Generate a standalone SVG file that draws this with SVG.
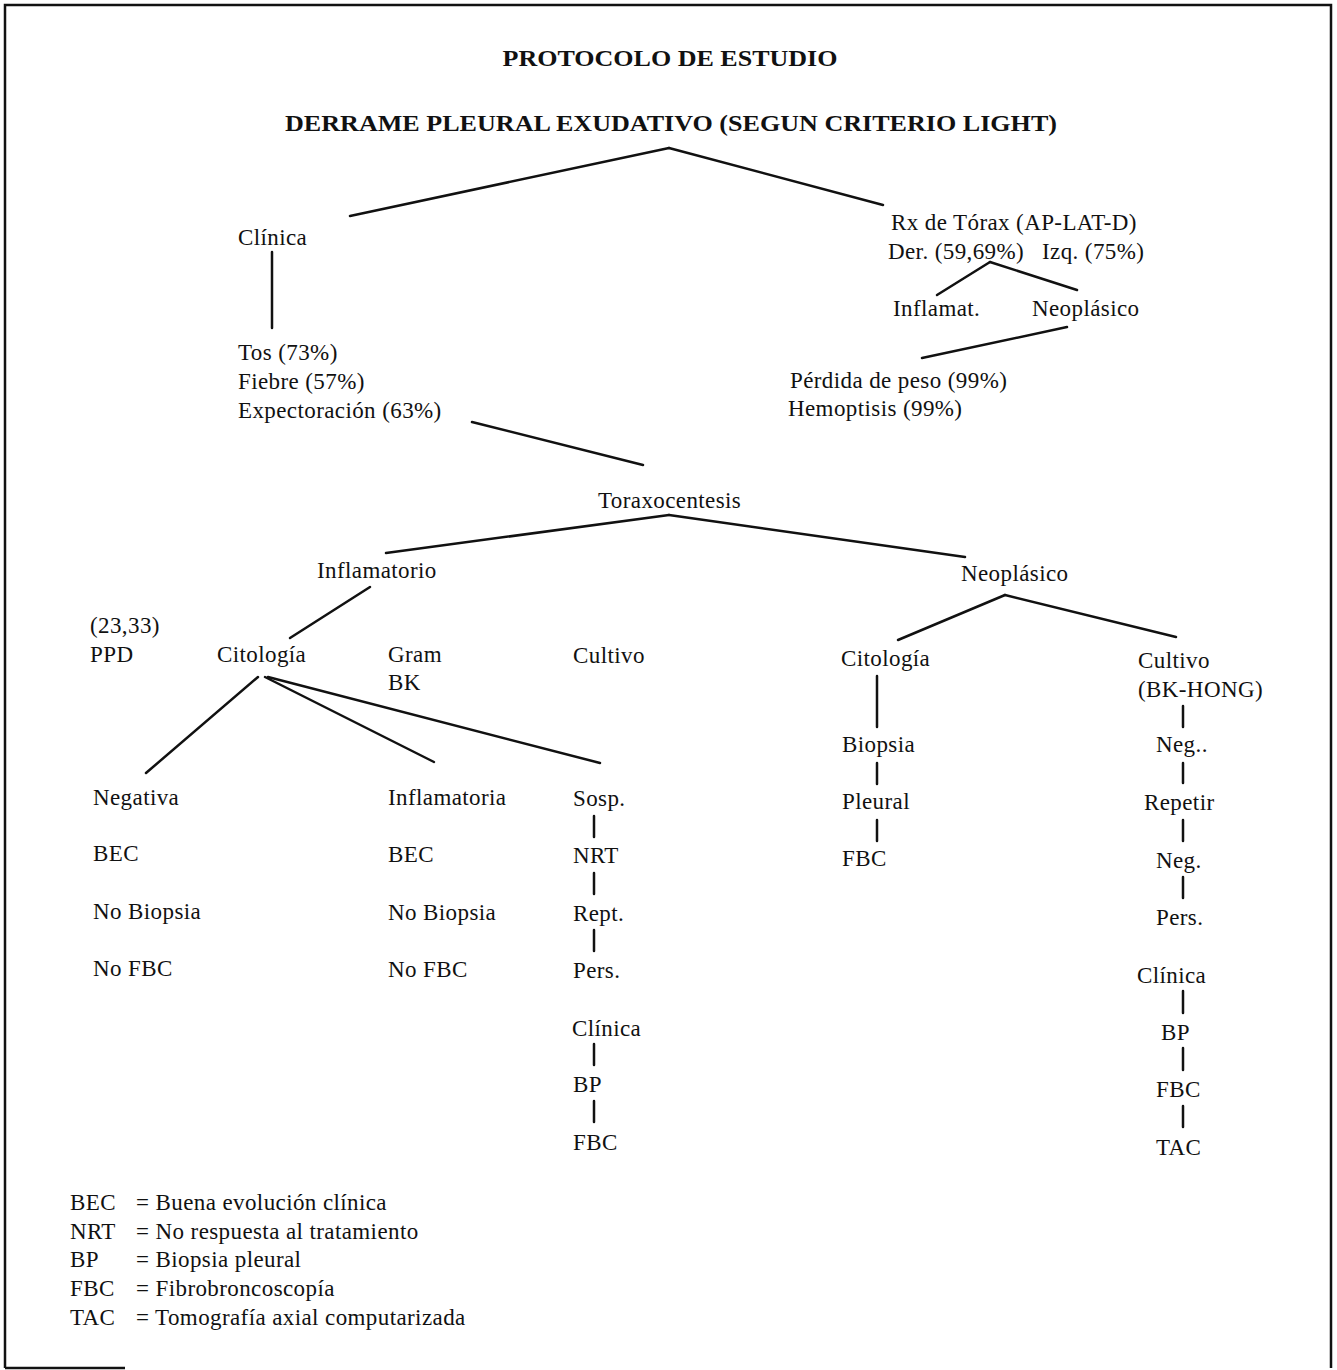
<svg xmlns="http://www.w3.org/2000/svg" width="1337" height="1370" viewBox="0 0 1337 1370">
<style>
text{font-family:"Liberation Serif","Times New Roman",serif;font-size:23px;letter-spacing:0.4px;fill:#111}
.t{font-weight:bold;font-size:23px;letter-spacing:0}
.c line{stroke:#111;stroke-width:2.5;stroke-linecap:round}
</style>
<rect width="1337" height="1370" fill="#fff"/>
<path d="M5,1368 V5 H1331 V1368 M5,1368 H125" fill="none" stroke="#111" stroke-width="2.5"/>
<g id="title">
<text class="t" x="670" y="66" text-anchor="middle" textLength="335" lengthAdjust="spacingAndGlyphs">PROTOCOLO DE ESTUDIO</text>
<text class="t" x="671" y="131" text-anchor="middle" textLength="772" lengthAdjust="spacingAndGlyphs">DERRAME PLEURAL EXUDATIVO (SEGUN CRITERIO LIGHT)</text>
</g>
<g class="c" id="connectors">
<line x1="669" y1="148" x2="350" y2="216"/>
<line x1="669" y1="148" x2="883" y2="205"/>
<line x1="272" y1="252" x2="272" y2="328"/>
<line x1="990" y1="262" x2="937" y2="295"/>
<line x1="990" y1="262" x2="1077" y2="290"/>
<line x1="1067" y1="327" x2="922" y2="358"/>
<line x1="472" y1="422" x2="643" y2="465"/>
<line x1="669" y1="515" x2="386" y2="553"/>
<line x1="669" y1="515" x2="965" y2="557"/>
<line x1="370" y1="587" x2="290" y2="638"/>
<line x1="258" y1="677" x2="146" y2="773"/>
<line x1="265" y1="677" x2="434" y2="762"/>
<line x1="268" y1="677" x2="600" y2="763"/>
<line x1="1005" y1="595" x2="898" y2="640"/>
<line x1="1005" y1="595" x2="1176" y2="637"/>
<line x1="877" y1="676" x2="877" y2="727"/>
<line x1="877" y1="763" x2="877" y2="784"/>
<line x1="877" y1="820" x2="877" y2="841"/>
<line x1="1183" y1="706" x2="1183" y2="727"/>
<line x1="1183" y1="763" x2="1183" y2="783"/>
<line x1="1183" y1="820" x2="1183" y2="841"/>
<line x1="1183" y1="877" x2="1183" y2="898"/>
<line x1="1183" y1="991" x2="1183" y2="1013"/>
<line x1="1183" y1="1048" x2="1183" y2="1070"/>
<line x1="1183" y1="1106" x2="1183" y2="1127"/>
<line x1="594" y1="816" x2="594" y2="837"/>
<line x1="594" y1="873" x2="594" y2="894"/>
<line x1="594" y1="930" x2="594" y2="951"/>
<line x1="594" y1="1044" x2="594" y2="1065"/>
<line x1="594" y1="1101" x2="594" y2="1122"/>
</g>
<g id="clinica"><text x="238" y="245">Clínica</text></g>
<g id="sintomas"><text x="238" y="360">Tos (73%)</text><text x="238" y="389">Fiebre (57%)</text><text x="238" y="418">Expectoración (63%)</text></g>
<g id="rx"><text x="891" y="230">Rx de Tórax (AP-LAT-D)</text><text x="888" y="259">Der. (59,69%)</text><text x="1042" y="259">Izq. (75%)</text></g>
<g id="rx-inflamat"><text x="893" y="316">Inflamat.</text></g>
<g id="rx-neoplasico"><text x="1032" y="316">Neoplásico</text></g>
<g id="perdida"><text x="790" y="388">Pérdida de peso (99%)</text><text x="788" y="416">Hemoptisis (99%)</text></g>
<g id="toraxocentesis"><text x="598" y="508">Toraxocentesis</text></g>
<g id="inflamatorio"><text x="317" y="578">Inflamatorio</text></g>
<g id="neoplasico"><text x="961" y="581">Neoplásico</text></g>
<g id="ppd"><text x="90" y="633">(23,33)</text><text x="90" y="662">PPD</text></g>
<g id="citologia1"><text x="217" y="662">Citología</text></g>
<g id="gram"><text x="388" y="662">Gram</text><text x="388" y="690">BK</text></g>
<g id="cultivo1"><text x="573" y="663">Cultivo</text></g>
<g id="negativa"><text x="93" y="805">Negativa</text><text x="93" y="861">BEC</text><text x="93" y="919">No Biopsia</text><text x="93" y="976">No FBC</text></g>
<g id="inflamatoria"><text x="388" y="805">Inflamatoria</text><text x="388" y="862">BEC</text><text x="388" y="920">No Biopsia</text><text x="388" y="977">No FBC</text></g>
<g id="sosp"><text x="573" y="806">Sosp.</text><text x="573" y="863">NRT</text><text x="573" y="921">Rept.</text><text x="573" y="978">Pers.</text><text x="572" y="1036">Clínica</text><text x="573" y="1092">BP</text><text x="573" y="1150">FBC</text></g>
<g id="citologia2"><text x="841" y="666">Citología</text><text x="842" y="752">Biopsia</text><text x="842" y="809">Pleural</text><text x="842" y="866">FBC</text></g>
<g id="cultivo2"><text x="1138" y="668">Cultivo</text><text x="1138" y="697">(BK-HONG)</text><text x="1156" y="752">Neg..</text><text x="1144" y="810">Repetir</text><text x="1156" y="868">Neg.</text><text x="1156" y="925">Pers.</text><text x="1137" y="983">Clínica</text><text x="1161" y="1040">BP</text><text x="1156" y="1097">FBC</text><text x="1156" y="1155">TAC</text></g>
<g id="legend">
<text x="70" y="1210">BEC</text><text x="136" y="1210">= Buena evolución clínica</text>
<text x="70" y="1239">NRT</text><text x="136" y="1239">= No respuesta al tratamiento</text>
<text x="70" y="1267">BP</text><text x="136" y="1267">= Biopsia pleural</text>
<text x="70" y="1296">FBC</text><text x="136" y="1296">= Fibrobroncoscopía</text>
<text x="70" y="1325">TAC</text><text x="136" y="1325">= Tomografía axial computarizada</text>
</g>
</svg>
